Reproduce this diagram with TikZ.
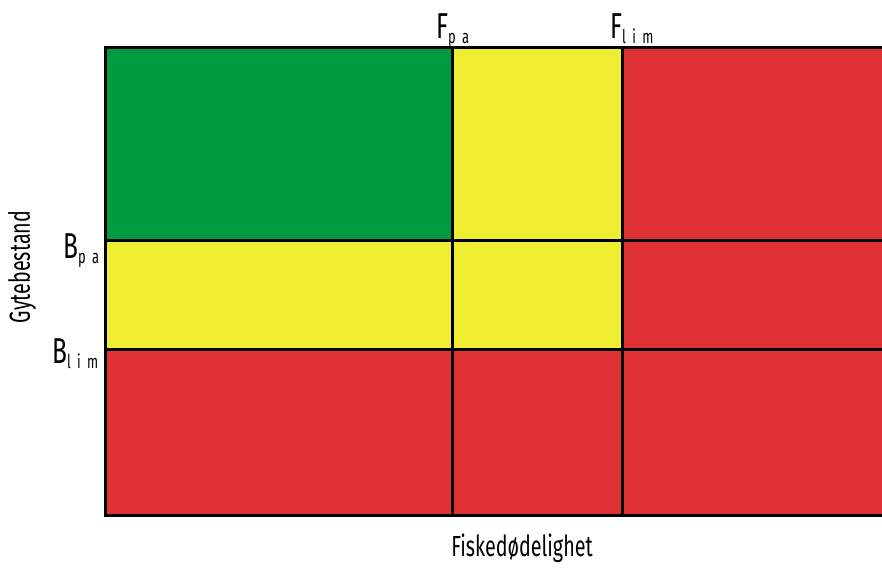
\documentclass[tikz,border=0pt]{standalone}
\usepackage{fontspec}
\setmainfont{Fira Sans}[FakeStretch=0.68]
\definecolor{sonegronn}{HTML}{009B3F}
\definecolor{sonegul}{HTML}{F0EE32}
\definecolor{sonerod}{HTML}{E03134}
\newcommand{\refsub}[1]{\raisebox{-5pt}{\fontsize{19}{19}\selectfont #1}}
\begin{document}
\begin{tikzpicture}[x=1pt,y=-1pt,
    grense/.style={line width=3pt,black},
    etikett/.style={inner sep=0pt,font=\fontsize{36}{36}\selectfont}]
            \useasboundingbox (0,0) rectangle (882,568);
            % soner
            \fill[sonegronn] (105,47) rectangle (452,240);
            \fill[sonegul] (452,47) rectangle (622,240);
            \fill[sonegul] (105,240) rectangle (622,349);
            \fill[sonerod] (622,47) rectangle (882,349);
            \fill[sonerod] (105,349) rectangle (882,515);
            % grenser
            \draw[grense] (882,47) -- (105,47) -- (105,515) -- (882,515);
            \draw[grense] (452,47) -- (452,515);
            \draw[grense] (622,47) -- (622,515);
            \draw[grense] (105,240) -- (882,240);
            \draw[grense] (105,349) -- (882,349);
            % referansepunkt
            \node[etikett,anchor=base west] (fpa) at (436,38) {F\refsub{p\,\,a}};
            \node[etikett,anchor=base west] (flim) at (610,38) {F\refsub{l\,\,i\,\,m}};
            \node[etikett,anchor=base west] (bpa) at (63,258) {B\refsub{p\,\,a}};
            \node[etikett,anchor=base west] (blim) at (52,363) {B\refsub{l\,\,i\,\,m}};
            % akser
            \node[etikett,font=\fontsize{29}{29}\selectfont,anchor=base] (xakse) at (522,556) {Fiskedødelighet};
            \node[etikett,font=\fontsize{29}{29}\selectfont,rotate=90] (yakse) at (22,267) {Gytebestand};
        \end{tikzpicture}
\end{document}
